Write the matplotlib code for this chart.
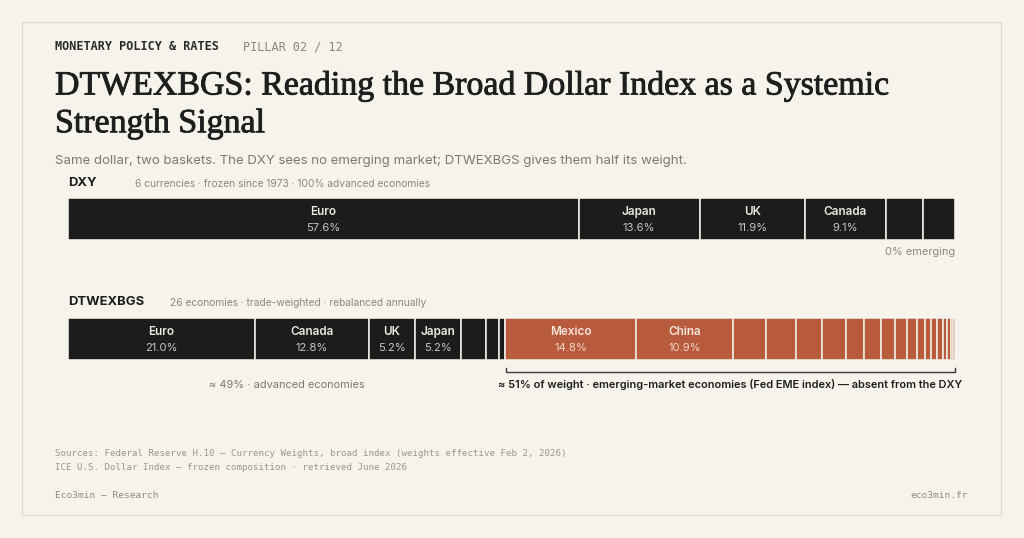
import matplotlib
matplotlib.use("Agg")
import matplotlib.pyplot as plt
from matplotlib.patches import Rectangle
import matplotlib.patheffects as pe
import numpy as np

# ---------------- data ----------------
dxy_names = ["Euro", "Japan", "UK", "Canada", "Sweden", "Switzerland"]
dxy_weights = [57.6, 13.6, 11.9, 9.1, 4.2, 3.6]
dxy_labeled = ["Euro", "Japan", "UK", "Canada"]

adv_names = ["Euro", "Canada", "UK", "Japan", "Switzerland", "Australia", "Sweden"]
adv_weights = [21.0, 12.8, 5.2, 5.2, 2.8, 1.5, 0.6]
eme_names = ["Mexico", "China", "Korea", "India", "Taiwan", "Vietnam", "Singapore",
             "Brazil", "Malaysia", "Thailand", "Hong Kong", "Israel", "Philippines",
             "Indonesia", "Saudi Arabia", "Chile", "Colombia", "Argentina", "Russia"]
eme_weights = [14.8, 10.9, 3.6, 3.4, 2.9, 2.7, 2.1, 1.9, 1.5, 1.4, 1.1, 0.9,
               0.7, 0.7, 0.6, 0.5, 0.4, 0.3, 0.2]
broad_labeled = ["Euro", "Canada", "UK", "Japan", "Mexico", "China"]

# ---------------- style ----------------
BG = "#f6f3ec"
BORDER = "#dfdbd0"
DARK = "#1c1c1c"
ORANGE = "#b85a3c"
GRAY = "#7d7972"
LGRAY = "#8c8880"

W, H = 1024, 538
fig = plt.figure(figsize=(W / 100, H / 100), dpi=100, facecolor=BG)


def fx(x):
    return x / W


def fy(y):
    return 1 - y / H


def pt(px):
    return px * 0.72


SANS = ["Inter", "DejaVu Sans"]
MONO = ["DejaVu Sans Mono"]
SERIF = ["Liberation Serif", "DejaVu Serif"]

# card border
fig.patches.append(Rectangle((fx(22), fy(515)), fx(1001) - fx(22), fy(22) - fy(515),
                             transform=fig.transFigure, facecolor="none",
                             edgecolor=BORDER, linewidth=1.0, zorder=-1))

# header
fig.text(fx(55), fy(47), "MONETARY POLICY & RATES", family=MONO, weight="bold",
         fontsize=pt(11.8), color="#2a2a2a", va="center", ha="left")
fig.text(fx(243), fy(47), "PILLAR 02 / 12", family=MONO, fontsize=pt(11.8),
         color="#8a867e", va="center", ha="left")

title_fx = [pe.withStroke(linewidth=0.6, foreground="#1e1e1e")]
fig.text(fx(55), fy(86), "DTWEXBGS: Reading the Broad Dollar Index as a Systemic",
         family=SERIF, fontsize=pt(33.9), color="#1e1e1e", va="center", ha="left",
         weight="normal", path_effects=title_fx)
fig.text(fx(55), fy(124), "Strength Signal",
         family=SERIF, fontsize=pt(33.9), color="#1e1e1e", va="center", ha="left",
         weight="normal", path_effects=title_fx)
fig.text(fx(55), fy(161),
         "Same dollar, two baskets. The DXY sees no emerging market; DTWEXBGS gives them half its weight.",
         family=SANS, fontsize=pt(13.25), color=GRAY, va="center", ha="left")

# section labels
fig.text(fx(68), fy(183), "DXY", family=SANS, weight="bold", fontsize=pt(13),
         color=DARK, va="center", ha="left")
fig.text(fx(135), fy(184), "6 currencies · frozen since 1973 · 100% advanced economies",
         family=SANS, fontsize=pt(10.2), color=LGRAY, va="center", ha="left")
fig.text(fx(68), fy(302), "DTWEXBGS", family=SANS, weight="bold", fontsize=pt(13),
         color=DARK, va="center", ha="left")
fig.text(fx(170), fy(303), "26 economies · trade-weighted · rebalanced annually",
         family=SANS, fontsize=pt(10.2), color=LGRAY, va="center", ha="left")


def bar_axes(top, bottom):
    ax = fig.add_axes([fx(68), fy(bottom), fx(955) - fx(68), fy(top) - fy(bottom)])
    ax.set_facecolor("none")
    for s in ax.spines.values():
        s.set_visible(False)
    ax.set_xticks([])
    ax.set_yticks([])
    ax.set_ylim(0, 1)
    return ax


def draw_bar(ax, names, weights, colors, labeled, name_col, pct_col):
    weights = np.array(weights, dtype=float)
    lefts = np.concatenate([[0], np.cumsum(weights)[:-1]])
    ax.barh(0.5, weights, left=lefts, height=1.0, color=colors,
            edgecolor="#ede8df", linewidth=1.2)
    ax.set_xlim(0, weights.sum())
    for n, w, l, nc, pc in zip(names, weights, lefts, name_col, pct_col):
        if n in labeled:
            cx = l + w / 2
            ax.text(cx, 0.667, n, ha="center", va="center", family=SANS,
                    weight="semibold", fontsize=pt(11.8), color=nc)
            ax.text(cx, 0.29, f"{w:.1f}%", ha="center", va="center", family=SANS,
                    fontsize=pt(11.2), color=pc)
    return lefts


# DXY bar
ax1 = bar_axes(198, 240)
draw_bar(ax1, dxy_names, dxy_weights, [DARK] * len(dxy_names), dxy_labeled,
         ["#ece8e0"] * 6, ["#c9c5bd"] * 6)
ax1.text(1.0, -0.29, "0% emerging", transform=ax1.transAxes, ha="right", va="center",
         family=SANS, fontsize=pt(11), color=LGRAY)

# DTWEXBGS bar
ax2 = bar_axes(318, 360)
b_names = adv_names + eme_names
b_weights = adv_weights + eme_weights
b_colors = [DARK] * len(adv_names) + [ORANGE] * len(eme_names)
name_cols = ["#ece8e0"] * len(adv_names) + ["#f6e6dc"] * len(eme_names)
pct_cols = ["#c9c5bd"] * len(adv_names) + ["#f0d6c8"] * len(eme_names)
draw_bar(ax2, b_names, b_weights, b_colors, broad_labeled, name_cols, pct_cols)

adv_sum = sum(adv_weights)
total = sum(b_weights)
tr = ax2.get_xaxis_transform()
ax2.plot([adv_sum + 0.15, adv_sum + 0.15, total, total], [-0.19, -0.29, -0.29, -0.19],
         transform=tr, color="#3a3a3a", linewidth=1.0, clip_on=False,
         solid_joinstyle="miter")
ax2.text((adv_sum + total) / 2, -0.595,
         "≈ 51% of weight · emerging-market economies (Fed EME index) — absent from the DXY",
         transform=tr, ha="center", va="center", family=SANS, weight="semibold",
         fontsize=pt(11), color="#1e1e1e")
ax2.text(adv_sum / 2, -0.595, "≈ 49% · advanced economies", transform=tr,
         ha="center", va="center", family=SANS, fontsize=pt(11), color=GRAY)

# footer
fig.text(fx(55), fy(454),
         "Sources: Federal Reserve H.10 — Currency Weights, broad index (weights effective Feb 2, 2026)",
         family=MONO, fontsize=pt(9.2), color="#9a968e", va="center", ha="left")
fig.text(fx(55), fy(467), "ICE U.S. Dollar Index — frozen composition · retrieved June 2026",
         family=MONO, fontsize=pt(9.2), color="#9a968e", va="center", ha="left")
fig.text(fx(55), fy(496), "Eco3min — Research", family=MONO, fontsize=pt(9.5),
         color="#8e8a82", va="center", ha="left")
fig.text(fx(968), fy(496), "eco3min.fr", family=MONO, fontsize=pt(9.5),
         color="#8e8a82", va="center", ha="right")

fig.savefig("out.png", dpi=100, facecolor=BG)
